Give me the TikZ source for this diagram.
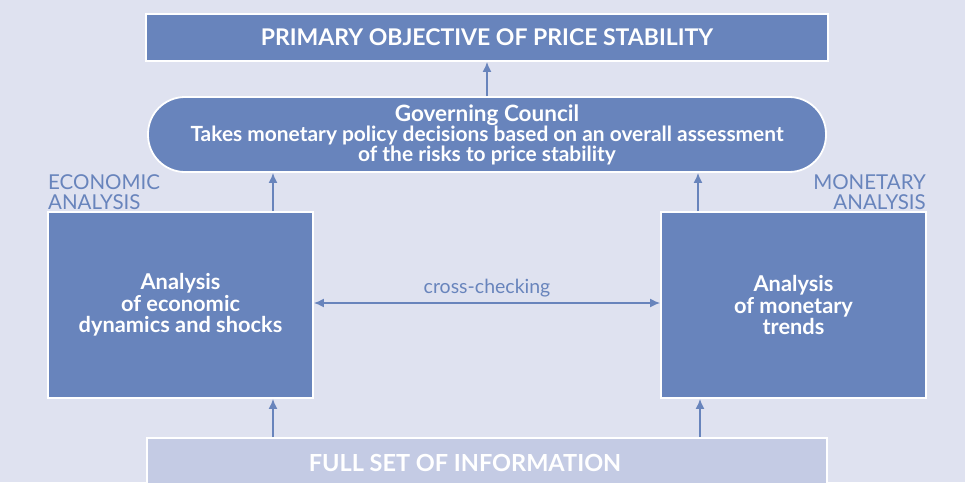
\documentclass[tikz,border=0pt]{standalone}
\usepackage{fontspec}
\setmainfont{Lato}
\usetikzlibrary{arrows.meta}
\definecolor{bgc}{HTML}{DFE2F0}
\definecolor{boxc}{HTML}{6884BC}
\definecolor{lightc}{HTML}{C4CBE4}
\tikzset{
  box/.style={draw=white, line width=1.8pt, fill=boxc, text=white, font=\bfseries, inner sep=0pt, align=center},
  lbox/.style={box, fill=lightc},
  conn/.style={draw=boxc, line width=1.6pt, -{Latex[length=10pt,width=9pt]}},
  lab/.style={text=boxc, font=\fontsize{20.5}{20}\selectfont, inner sep=0pt}
}
\begin{document}
\begin{tikzpicture}[x=1pt,y=-1pt]
\useasboundingbox[fill=bgc] (0,0) rectangle (965,482);
\node[box, minimum width=682pt, minimum height=47pt, font=\bfseries\fontsize{23}{24}\selectfont] (top) at (487,37.5) {PRIMARY OBJECTIVE OF PRICE STABILITY};
\node[box, minimum width=678pt, minimum height=75pt, rounded corners=37pt, font=\bfseries\fontsize{20.9}{20}\selectfont] (gov) at (487,134.5) {{\fontsize{22.5}{20}\selectfont Governing Council}\\Takes monetary policy decisions based on an overall assessment\\of the risks to price stability};
\node[box, minimum width=265pt, minimum height=186pt, font=\bfseries\fontsize{21.8}{21.5}\selectfont] (eco) at (180.5,305) {Analysis\\of economic\\dynamics and shocks};
\node[box, minimum width=265pt, minimum height=186pt, font=\bfseries\fontsize{21.8}{21.5}\selectfont] (mon) at (793.5,305) {Analysis\\of monetary\\trends};
\node[lbox, minimum width=680pt, minimum height=50pt, font=\bfseries\fontsize{23.5}{24}\selectfont] (info) at (487,463) {FULL SET OF INFORMATION\hspace*{44pt}};
\node[lab, anchor=south west, align=left] (ecolab) at (48,210) {ECONOMIC\\ANALYSIS};
\node[lab, anchor=south east, align=right] (monlab) at (926,210) {MONETARY\\ANALYSIS};
\draw[conn] (gov.north -| top.south) -- (top.south);
\draw[conn] (eco.north -| 273,0) -- (gov.south -| 273,0);
\draw[conn] (mon.north -| 698,0) -- (gov.south -| 698,0);
\draw[conn] (info.north -| 273,0) -- (eco.south -| 273,0);
\draw[conn] (info.north -| 700,0) -- (mon.south -| 700,0);
\draw[conn, {Latex[length=10pt,width=9pt]}-{Latex[length=10pt,width=9pt]}] (eco.east |- 0,303) -- node[lab, above=5pt, font=\fontsize{19.5}{20}\selectfont] (cc) {cross-checking} (mon.west |- 0,303);
\end{tikzpicture}
\end{document}
